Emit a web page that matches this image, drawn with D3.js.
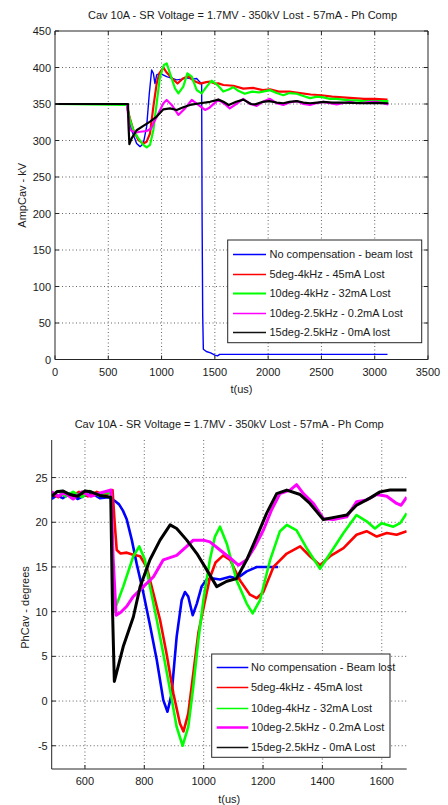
<!DOCTYPE html>
<html>
<head>
<meta charset="utf-8">
<script src="https://cdn.jsdelivr.net/npm/d3@7"></script>
<style>
  html, body { margin: 0; padding: 0; background: #fff; }
  svg { display: block; }
  text { font-family: "Liberation Sans", Arial, Helvetica, sans-serif; fill: #1a1a1a; }
</style>
</head>
<body>
<svg id="chart" width="448" height="805"></svg>
<script>
// ---------------- DATA ----------------
const titleText = "Cav 10A - SR Voltage = 1.7MV - 350kV Lost - 57mA - Ph Comp";

// Top chart: AmpCav (kV) vs t(us)
const ampXTicks = [0, 500, 1000, 1500, 2000, 2500, 3000, 3500];
const ampYTicks = [0, 50, 100, 150, 200, 250, 300, 350, 400, 450];

const ampBlue = [[0,350],[673,350],[688,332.7],[719,314],[766,296],[798,291.6],[829,296],[860,319],[885,364.6],[907,396.6],[923,392],[938,378],[954,389.8],[985,392],[1048,387.5],[1100,385],[1142,383],[1190,384],[1236,386],[1290,384],[1329,385],[1360,380],[1376,378],[1380,200],[1386,60],[1392,14],[1420,11],[1460,9],[1500,6],[1525,5],[1545,7],[3120,7]];
const ampRed = [[0,350],[673,350],[698,332.7],[735,314.4],[782,300.7],[829,296],[860,298.4],[892,309.8],[923,346.4],[954,378],[979,392],[1017,400],[1048,393],[1100,385],[1150,378],[1200,385],[1250,388],[1300,382],[1361,378],[1420,380],[1455,380.6],[1500,378],[1533,378.3],[1580,376],[1673,375],[1767,371],[1860,372],[1950,369],[2017,370],[2100,367],[2200,367],[2300,365],[2400,363],[2500,362],[2600,360],[2700,359],[2800,358],[2900,357],[3000,357],[3120,356]];
const ampGreen = [[0,350],[673,348.7],[704,328],[735,314],[782,303],[829,294],[860,290.7],[892,294],[923,314.4],[954,351],[985,387.5],[1023,403.5],[1048,405.7],[1079,392],[1126,371.5],[1158,364.6],[1204,373.8],[1242,392],[1283,387.5],[1329,369.2],[1376,364.6],[1423,373.8],[1470,382],[1525,376],[1579,367],[1630,370],[1673,373],[1720,368],[1780,364],[1850,367],[1917,366],[2017,369],[2080,365],[2142,362],[2200,365],[2268,364],[2330,361],[2393,358],[2460,360],[2518,359],[2580,357],[2643,357],[2700,356],[2768,355],[2830,355],[2893,354],[2960,354],[3019,354],[3128,354]];
const ampMagenta = [[0,350],[675,350],[690,330],[700,316],[720,313],[760,311],[800,312],[860,313],[900,316],[923,323.5],[970,337],[1017,351],[1048,355.5],[1095,348.7],[1158,335],[1220,344],[1283,355.5],[1345,348.7],[1408,341.8],[1450,345],[1533,356],[1600,349],[1640,344],[1700,350],[1767,357],[1830,350],[1893,347.5],[1950,353],[2017,357],[2080,351],[2142,348.6],[2200,352],[2268,354],[2330,350],[2393,348.6],[2450,351],[2518,353],[2580,351],[2643,349.5],[2700,351],[2768,353],[2830,351],[2893,351.5],[2960,353],[3019,353],[3128,349.5]];
const ampBlack = [[0,350],[685,350],[690,320],[698,295],[719,303],[766,314],[829,320],[892,325.8],[954,332.7],[1017,342.7],[1079,344],[1142,341.8],[1204,345.5],[1267,348.7],[1361,351],[1455,353],[1533,356],[1580,353],[1630,348.6],[1700,353],[1767,356],[1840,350],[1880,349.5],[1950,353],[2010,354],[2080,352],[2142,351],[2200,353],[2268,354],[2330,352],[2393,351],[2460,352],[2518,353],[2600,352],[2700,352],[2800,351.5],[2900,351],[3000,351.5],[3128,351]];

const ampLegend = ["No compensation - beam lost", "5deg-4kHz - 45mA Lost", "10deg-4kHz - 32mA Lost", "10deg-2.5kHz - 0.2mA Lost", "15deg-2.5kHz - 0mA lost"];

// Bottom chart: PhCav (degrees) vs t(us)
const phXTicks = [600, 800, 1000, 1200, 1400, 1600];
const phYTicks = [-5, 0, 5, 10, 15, 20, 25];

const phBlue = [[488,22.6],[505,23.0],[525,22.7],[550,23.2],[575,22.6],[600,23.0],[625,23.2],[650,22.7],[680,22.8],[700,22.4],[715,22.0],[728,21.3],[741,20.3],[758,18.0],[774,15.4],[797,12.05],[819,8.5],[842,4.6],[864,0.1],[878,-1.2],[892,0.8],[909,7.2],[926,11.3],[937,12.2],[948,11.7],[963,9.6],[977,10.9],[993,12.8],[1010,13.6],[1033,13.7],[1055,13.6],[1089,13.9],[1111,13.7],[1145,14.5],[1179,15.0],[1212,15.0],[1251,15.0]];
const phRed = [[488,23.2],[510,22.8],[530,23.4],[555,22.9],[580,23.4],[610,22.9],[640,23.4],[670,23.0],[693,23.6],[700,20],[707,16.9],[720,16.5],[741,16.6],[760,16.4],[786,16.2],[808,15.0],[831,12.0],[853,9.1],[875,5.3],[898,0.85],[920,-2.5],[932,-3.4],[948,-1.4],[965,3.1],[982,7.6],[1005,11.3],[1021,13.8],[1040,15.5],[1066,16.3],[1089,15.8],[1122,13.5],[1156,11.9],[1179,11.5],[1201,12.2],[1235,15.0],[1280,16.5],[1325,17.3],[1358,16.2],[1392,15.2],[1426,16.2],[1471,17.1],[1515,18.6],[1549,19.0],[1583,18.4],[1617,18.8],[1650,18.6],[1684,19.0]];
const phGreen = [[488,23.0],[510,23.5],[535,22.9],[560,23.4],[590,22.8],[615,23.5],[645,23.0],[670,23.3],[688,23.2],[693,15],[698,10.0],[729,12.8],[763,16.2],[783,17.3],[802,15.8],[819,12.8],[842,9.1],[864,5.3],[887,1.2],[909,-2.9],[929,-5.0],[948,-2.9],[965,1.6],[982,6.8],[999,11.3],[1021,15.8],[1038,18.4],[1055,19.5],[1078,17.6],[1111,13.5],[1145,10.9],[1165,9.8],[1190,11.3],[1224,15.8],[1257,19.0],[1280,19.7],[1313,19.1],[1347,17.1],[1392,14.8],[1426,16.5],[1471,18.8],[1515,20.8],[1549,20.1],[1577,19.3],[1600,19.9],[1639,19.5],[1662,19.9],[1684,21.0]];
const phMagenta = [[488,23.4],[510,22.9],[530,23.3],[560,22.6],[590,23.4],[620,22.9],[655,23.3],[688,23.6],[695,16],[705,9.6],[720,9.9],[741,10.6],[763,11.7],[797,12.8],[831,13.9],[864,15.8],[909,16.3],[943,17.3],[965,18.0],[999,18.0],[1021,17.8],[1055,16.9],[1089,16.0],[1117,15.2],[1145,15.8],[1173,17.3],[1201,19.1],[1229,21.4],[1257,23.2],[1291,23.6],[1313,24.2],[1336,23.2],[1370,22.1],[1403,20.4],[1437,20.3],[1482,20.6],[1515,22.3],[1549,22.5],[1583,23.1],[1617,22.9],[1650,22.1],[1665,21.9],[1684,22.8]];
const phBlack = [[488,22.9],[505,23.4],[525,23.5],[550,23.1],[575,22.9],[600,23.5],[620,23.4],[650,23.0],[687,22.8],[693,10],[699,2.2],[729,6.1],[763,9.4],[786,12.8],[819,15.8],[853,18.0],[887,19.7],[909,19.3],[943,18.0],[977,16.5],[1010,14.7],[1044,12.8],[1078,13.4],[1111,13.7],[1145,15.8],[1179,18.4],[1212,21.0],[1246,23.2],[1280,23.6],[1325,23.1],[1358,22.1],[1403,20.3],[1448,20.6],[1482,20.8],[1515,21.9],[1560,22.7],[1594,23.4],[1628,23.6],[1684,23.6]];

const phLegend = ["No compensation - Beam lost", "5deg-4kHz - 45mA lost", "10deg-4kHz - 32mA Lost", "10deg-2.5kHz - 0.2mA Lost", "15deg-2.5kHz - 0mA Lost"];

const seriesColors = ["#0000ff", "#ff0000", "#00ff00", "#ff00ff", "#000000"];

// ---------------- DRAW ----------------
const svg = d3.select("#chart");
const FONT = 11;

function grid(g, x, y, xTicks, yTicks, x0, x1, y0, y1) {
  const gridColor = "#3a3a3a";
  g.append("g").selectAll("line").data(xTicks.filter(t => x(t) > x0 + 1 && x(t) < x1 - 1)).join("line")
    .attr("x1", d => x(d)).attr("x2", d => x(d)).attr("y1", y0).attr("y2", y1)
    .attr("stroke", gridColor).attr("stroke-width", 0.8).attr("stroke-dasharray", "1,2.5");
  g.append("g").selectAll("line").data(yTicks.filter(t => y(t) > y0 + 1 && y(t) < y1 - 1)).join("line")
    .attr("x1", x0).attr("x2", x1).attr("y1", d => y(d)).attr("y2", d => y(d))
    .attr("stroke", gridColor).attr("stroke-width", 0.8).attr("stroke-dasharray", "1,2.5");
}

function axisDecor(g, x, y, xTicks, yTicks, box, x0, x1, y0, y1, yLabGap) {
  const axColor = "#262626";
  const tl = 4;
  g.append("line").attr("x1", x0).attr("x2", x0).attr("y1", y0).attr("y2", y1).attr("stroke", axColor).attr("stroke-width", 1);
  g.append("line").attr("x1", x0).attr("x2", x1).attr("y1", y1).attr("y2", y1).attr("stroke", axColor).attr("stroke-width", 1);
  if (box) {
    g.append("line").attr("x1", x1).attr("x2", x1).attr("y1", y0).attr("y2", y1).attr("stroke", axColor).attr("stroke-width", 1);
    g.append("line").attr("x1", x0).attr("x2", x1).attr("y1", y0).attr("y2", y0).attr("stroke", axColor).attr("stroke-width", 1);
  }
  xTicks.forEach(t => {
    g.append("line").attr("x1", x(t)).attr("x2", x(t)).attr("y1", y1).attr("y2", y1 - tl).attr("stroke", axColor);
    if (box) g.append("line").attr("x1", x(t)).attr("x2", x(t)).attr("y1", y0).attr("y2", y0 + tl).attr("stroke", axColor);
  });
  yTicks.forEach(t => {
    g.append("line").attr("x1", x0).attr("x2", x0 + tl).attr("y1", y(t)).attr("y2", y(t)).attr("stroke", axColor);
    if (box) g.append("line").attr("x1", x1).attr("x2", x1 - tl).attr("y1", y(t)).attr("y2", y(t)).attr("stroke", axColor);
  });
  g.append("g").selectAll("text").data(xTicks).join("text")
    .attr("x", d => x(d)).attr("y", y1 + 16).attr("text-anchor", "middle")
    .attr("font-size", FONT).text(d => d);
  g.append("g").selectAll("text").data(yTicks).join("text")
    .attr("x", x0 - yLabGap).attr("y", d => y(d) + 4).attr("text-anchor", "end")
    .attr("font-size", FONT).text(d => d);
}

function drawLines(g, x, y, seriesList, widths, clipId) {
  const line = d3.line().x(d => x(d[0])).y(d => y(d[1]));
  seriesList.forEach((s, i) => {
    g.append("path").datum(s).attr("d", line)
      .attr("fill", "none").attr("stroke", seriesColors[i])
      .attr("stroke-width", widths[i]).attr("stroke-linejoin", "round")
      .attr("clip-path", `url(#${clipId})`);
  });
}

function drawLegend(g, labels, bx, by, bw, bh, rowY, lineX0, lineX1, textX, lw) {
  g.append("rect").attr("x", bx).attr("y", by).attr("width", bw).attr("height", bh)
    .attr("fill", "#fff").attr("stroke", "#262626").attr("stroke-width", 1);
  labels.forEach((lab, i) => {
    const yy = Math.round(rowY[i]) + 0.5;
    g.append("line").attr("x1", lineX0).attr("x2", lineX1).attr("y1", yy).attr("y2", yy)
      .attr("stroke", i === 4 ? "#111" : seriesColors[i]).attr("stroke-width", lw[i]);
    g.append("text").attr("x", textX).attr("y", rowY[i] + 4).attr("font-size", FONT).text(lab);
  });
}

// ===== Top chart =====
{
  const X0 = 55, X1 = 428, Y0 = 31, Y1 = 359.5;
  const x = d3.scaleLinear().domain([0, 3500]).range([X0, X1]);
  const y = d3.scaleLinear().domain([0, 450]).range([Y1, Y0]);
  const g = svg.append("g");
  g.append("clipPath").attr("id", "clipTop").append("rect").attr("x", X0).attr("y", Y0).attr("width", X1 - X0).attr("height", Y1 - Y0);
  grid(g, x, y, ampXTicks, ampYTicks, X0, X1, Y0, Y1);
  drawLines(g, x, y, [ampBlue, ampRed, ampGreen, ampMagenta, ampBlack], [1.4, 2.2, 2.2, 2.2, 2.2], "clipTop");
  axisDecor(g, x, y, ampXTicks, ampYTicks, true, X0, X1, Y0, Y1, 4);
  g.append("text").attr("x", (X0 + X1) / 2 + 1).attr("y", 19).attr("text-anchor", "middle").attr("font-size", FONT).text(titleText);
  g.append("text").attr("x", (X0 + X1) / 2).attr("y", 393).attr("text-anchor", "middle").attr("font-size", FONT).text("t(us)");
  g.append("text").attr("transform", `translate(26,${(Y0 + Y1) / 2}) rotate(-90)`).attr("text-anchor", "middle").attr("font-size", FONT).text("AmpCav - kV");
  drawLegend(g, ampLegend, 227.7, 240, 194, 102.7, [254, 273.5, 293, 312.5, 332], 233, 266, 269.5, [1.5, 1.5, 2, 1.6, 1.5]);
}

// ===== Bottom chart =====
{
  const X0 = 51.7, X1 = 406.7, Y0 = 440, Y1 = 769;
  const x = d3.scaleLinear().domain([488, 1684]).range([X0, X1]);
  const y = d3.scaleLinear().domain([-7.6, 29.2]).range([Y1, Y0]);
  const g = svg.append("g");
  g.append("clipPath").attr("id", "clipBot").append("rect").attr("x", X0).attr("y", Y0).attr("width", X1 - X0).attr("height", Y1 - Y0);
  grid(g, x, y, phXTicks, phYTicks, X0, X1, Y0, Y1);
  drawLines(g, x, y, [phBlue, phRed, phGreen, phMagenta, phBlack], [2.6, 2.6, 2.6, 3, 3], "clipBot");
  axisDecor(g, x, y, phXTicks, phYTicks, false, X0, X1, Y0, Y1, 4);
  g.append("text").attr("x", (X0 + X1) / 2).attr("y", 428).attr("text-anchor", "middle").attr("font-size", FONT).text(titleText);
  g.append("text").attr("x", (X0 + X1) / 2).attr("y", 803).attr("text-anchor", "middle").attr("font-size", FONT).text("t(us)");
  g.append("text").attr("transform", `translate(29,${(Y0 + Y1) / 2 + 3}) rotate(-90)`).attr("text-anchor", "middle").attr("font-size", FONT).text("PhCav - degrees");
  drawLegend(g, phLegend, 211.7, 654, 178.3, 103.3, [667.3, 687.3, 707.5, 727, 747], 216.7, 248.3, 251, [1.5, 1.5, 1.6, 2.4, 1.6]);
}
</script>
</body>
</html>
